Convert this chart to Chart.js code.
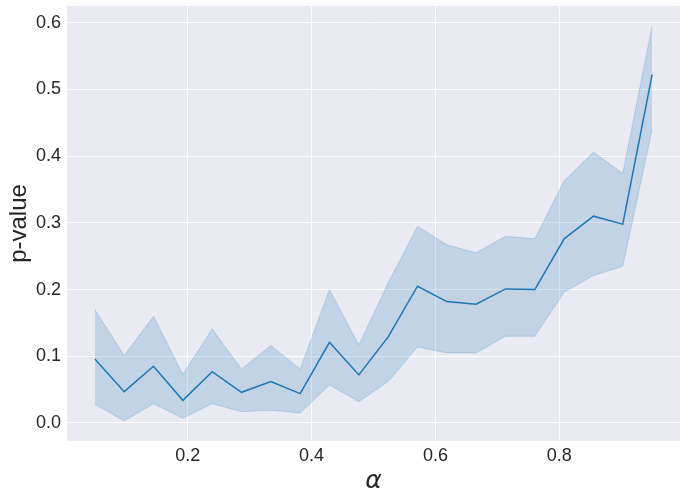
<!DOCTYPE html>
<html>
<head>
<meta charset="utf-8">
<script src="https://cdn.jsdelivr.net/npm/chart.js@4/dist/chart.umd.min.js"></script>
<style>
  html, body { margin: 0; padding: 0; background: #ffffff; }
  #wrap { width: 687px; height: 499px; }
</style>
</head>
<body>
<div id="wrap"><canvas id="chart-pvalue"></canvas></div>
<script>
// valeurs
const alphas = [0.05, 0.0974, 0.1447, 0.1921, 0.2395, 0.2868, 0.3342, 0.3816, 0.4289, 0.4763,
  0.5237, 0.5711, 0.6184, 0.6658, 0.7132, 0.7605, 0.8079, 0.8553, 0.9026, 0.95];
const meanP = [0.096, 0.047, 0.085, 0.034, 0.077, 0.046, 0.062, 0.044, 0.121, 0.072,
  0.129, 0.205, 0.182, 0.178, 0.201, 0.200, 0.276, 0.310, 0.298, 0.522];
const lowerP = [0.028, 0.003, 0.029, 0.007, 0.029, 0.017, 0.019, 0.015, 0.057, 0.032,
  0.062, 0.114, 0.105, 0.105, 0.130, 0.130, 0.196, 0.221, 0.235, 0.440];
const upperP = [0.170, 0.101, 0.160, 0.073, 0.141, 0.081, 0.116, 0.081, 0.200, 0.117,
  0.210, 0.295, 0.267, 0.255, 0.280, 0.276, 0.363, 0.406, 0.374, 0.595];
const xTicks = [0.2, 0.4, 0.6, 0.8];
const yTicks = [0.0, 0.1, 0.2, 0.3, 0.4, 0.5, 0.6];

const toPts = (ys) => alphas.map((x, i) => ({ x: x, y: ys[i] }));

const band = "rgba(31, 119, 180, 0.2)";
const textColor = "#262626";

// fond gris de la zone de tracé (style seaborn)
const plotBg = {
  id: "plotBg",
  beforeDraw(chart) {
    const { ctx, chartArea } = chart;
    ctx.save();
    ctx.fillStyle = "#EAEAF2";
    ctx.fillRect(chartArea.left, chartArea.top, chartArea.right - chartArea.left, chartArea.bottom - chartArea.top);
    ctx.restore();
  },
};

const ctx = document.getElementById("chart-pvalue").getContext("2d");
const chart = new Chart(ctx, {
  type: "line",
  data: {
    datasets: [
      {
        data: toPts(lowerP),
        borderColor: band,
        borderWidth: 1,
        pointRadius: 0,
        fill: false,
        order: 2,
      },
      {
        data: toPts(upperP),
        borderColor: band,
        backgroundColor: band,
        borderWidth: 1,
        pointRadius: 0,
        fill: 0, // remplissage jusqu'à la borne basse
        order: 2,
      },
      {
        data: toPts(meanP),
        borderColor: "#1f77b4",
        borderWidth: 1.5,
        pointRadius: 0,
        fill: false,
        order: 1,
      },
    ],
  },
  options: {
    responsive: true,
    maintainAspectRatio: false,
    animation: false,
    layout: { padding: { top: 6, right: 7, left: 0, bottom: 0 } },
    plugins: {
      legend: { display: false },
      tooltip: { enabled: false },
    },
    scales: {
      x: {
        type: "linear",
        min: 0.005,
        max: 0.995,
        border: { display: false },
        grid: { color: "#ffffff", lineWidth: 1, drawTicks: false },
        afterBuildTicks: (s) => { s.ticks = xTicks.map((v) => ({ value: v })); },
        afterFit: (s) => {
          s.height = 58;
          s.paddingLeft = 0;
          s.paddingRight = 0;
        },
        ticks: {
          padding: 4,
          color: textColor,
          font: { family: "Liberation Sans", size: 18 },
          callback: (v) => v.toFixed(1),
          maxRotation: 0,
        },
        title: {
          display: true,
          text: "α",
          color: textColor,
          font: { family: "DejaVu Sans", size: 25, style: "italic" },
          padding: { top: 0, bottom: 3 },
        },
      },
      y: {
        type: "linear",
        min: -0.027,
        max: 0.625,
        border: { display: false },
        grid: { color: "#ffffff", lineWidth: 1, drawTicks: false },
        afterBuildTicks: (s) => { s.ticks = yTicks.map((v) => ({ value: v })); },
        afterFit: (s) => {
          s.width = 67;
          s.paddingTop = 0;
          s.paddingBottom = 0;
        },
        ticks: {
          padding: 6,
          color: textColor,
          font: { family: "Liberation Sans", size: 18 },
          callback: (v) => v.toFixed(1),
        },
        title: {
          display: true,
          text: "p-value",
          color: textColor,
          font: { family: "Liberation Sans", size: 24 },
          padding: { top: 5, bottom: 0 },
        },
      },
    },
  },
  plugins: [plotBg],
});
</script>
</body>
</html>
